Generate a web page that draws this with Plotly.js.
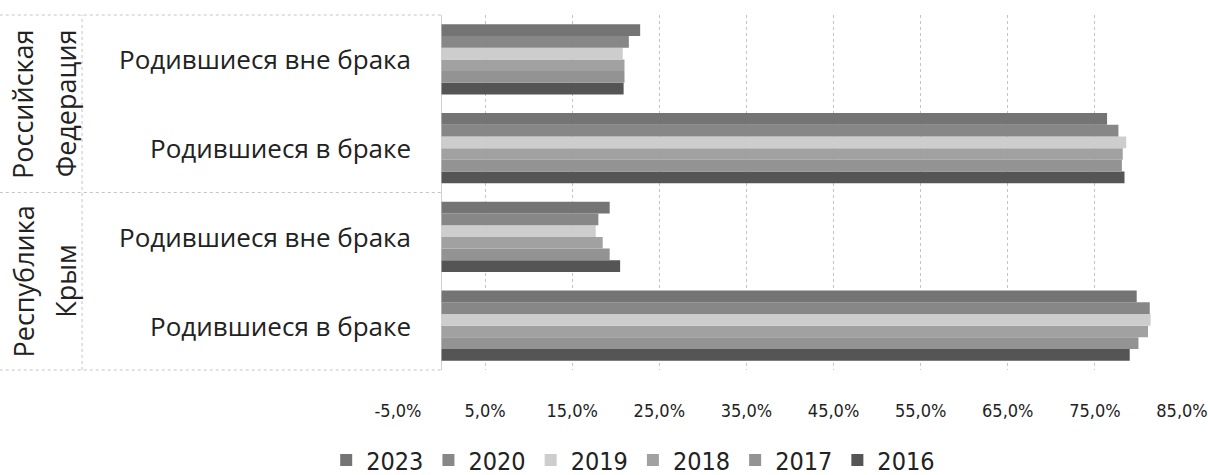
<!DOCTYPE html>
<html>
<head>
<meta charset="utf-8">
<script src="https://cdn.plot.ly/plotly-3.0.1.min.js"></script>
<style>html,body{margin:0;padding:0;background:#fff;}#chart{width:1208px;height:475px;}</style>
</head>
<body>
<div id="chart"></div>
<script>
// Categories (top to bottom as drawn)
const regions = ['Российская Федерация', 'Российская Федерация', 'Республика Крым', 'Республика Крым'];
const categories = ['Родившиеся вне брака', 'Родившиеся в браке', 'Родившиеся вне брака', 'Родившиеся в браке'];
const regionLines = {'Российская Федерация': ['Российская', 'Федерация'], 'Республика Крым': ['Республика', 'Крым']};

// Series (percent), order matches categories
const years = ['2016', '2017', '2018', '2019', '2020', '2023'];
const v2016 = [20.9, 78.4, 20.5, 79.0];
const v2017 = [21.0, 78.1, 19.3, 80.0];
const v2018 = [21.0, 78.2, 18.5, 81.1];
const v2019 = [20.8, 78.6, 17.7, 81.4];
const v2020 = [21.5, 77.7, 18.0, 81.3];
const v2023 = [22.8, 76.4, 19.3, 79.8];
const seriesValues = [v2016, v2017, v2018, v2019, v2020, v2023];

// Axis ticks
const tickValsPct = [-5, 5, 15, 25, 35, 45, 55, 65, 75, 85];
const tickLabels = ['-5,0%', '5,0%', '15,0%', '25,0%', '35,0%', '45,0%', '55,0%', '65,0%', '75,0%', '85,0%'];

const colors = ['#555555', '#939393', '#a1a1a1', '#cdcdcd', '#878787', '#747474'];
const narrow = 'DejaVu Sans Condensed, Roboto, sans-serif';

const n = categories.length;
const yPos = categories.map((c, i) => n - 1 - i);

const traces = years.map((yr, k) => ({
  type: 'bar',
  orientation: 'h',
  name: yr,
  x: seriesValues[k].map(v => v / 100),
  y: yPos,
  marker: {color: colors[k], line: {width: 0}},
  hoverinfo: 'x+name'
}));

const annotations = [];
categories.forEach((c, i) => {
  annotations.push({
    xref: 'paper', yref: 'y', x: 0.019, y: yPos[i],
    xanchor: 'right', yanchor: 'middle', showarrow: false,
    text: c, font: {family: 'Open Sans', size: 26, color: '#222'}
  });
});
const lineX = [-0.478, -0.424];
const uniqueRegions = [...new Set(regions)];
uniqueRegions.forEach(r => {
  const idx = regions.map((x, i) => x === r ? yPos[i] : null).filter(v => v !== null);
  const mid = idx.reduce((a, b) => a + b, 0) / idx.length;
  regionLines[r].forEach((t, j) => {
    annotations.push({
      xref: 'paper', yref: 'y', x: lineX[j], y: mid,
      xanchor: 'center', yanchor: 'middle', showarrow: false, textangle: -90,
      text: t, font: {family: 'Open Sans', size: 27, color: '#222'}
    });
  });
});

const lineStyle = {color: '#c4c4c4', width: 1, dash: 'dot'};
const shapes = [
  {type: 'line', xref: 'paper', yref: 'paper', x0: -0.508, x1: 0.055, y0: 1, y1: 1, line: lineStyle},
  {type: 'line', xref: 'paper', yref: 'y', x0: -0.508, x1: 0.055, y0: 1.5, y1: 1.5, line: lineStyle},
  {type: 'line', xref: 'paper', yref: 'paper', x0: -0.508, x1: 0.055, y0: 0, y1: 0, line: lineStyle},
  {type: 'line', xref: 'paper', yref: 'paper', x0: -0.403, x1: -0.403, y0: 0, y1: 1, line: lineStyle}
];

const layout = {
  width: 1208, height: 475,
  margin: {l: 398, r: 26, t: 15, b: 105, autoexpand: false},
  paper_bgcolor: '#fff', plot_bgcolor: '#fff',
  barmode: 'group', bargap: 0.21, bargroupgap: 0,
  showlegend: true,
  legend: {
    orientation: 'h', x: 0.3, xanchor: 'center', y: -0.254, yanchor: 'middle',
    font: {family: narrow, size: 25, color: '#222'},
    traceorder: 'reversed', itemwidth: 30
  },
  xaxis: {
    range: [-0.05, 0.85],
    tickvals: tickValsPct.map(v => v / 100), ticktext: tickLabels,
    showgrid: true, gridcolor: '#c4c4c4', gridwidth: 1, griddash: 'dot',
    zeroline: true, zerolinecolor: '#d0d0d0', zerolinewidth: 1,
    showline: false, ticks: '', ticklabelstandoff: 28,
    tickfont: {family: narrow, size: 18, color: '#222'},
    fixedrange: true
  },
  yaxis: {
    range: [-0.5, n - 0.5], showticklabels: false, showgrid: false, zeroline: false,
    showline: false, ticks: '', fixedrange: true
  },
  annotations: annotations,
  shapes: shapes
};

Plotly.newPlot('chart', traces, layout, {displayModeBar: false, staticPlot: true});
</script>
</body>
</html>
